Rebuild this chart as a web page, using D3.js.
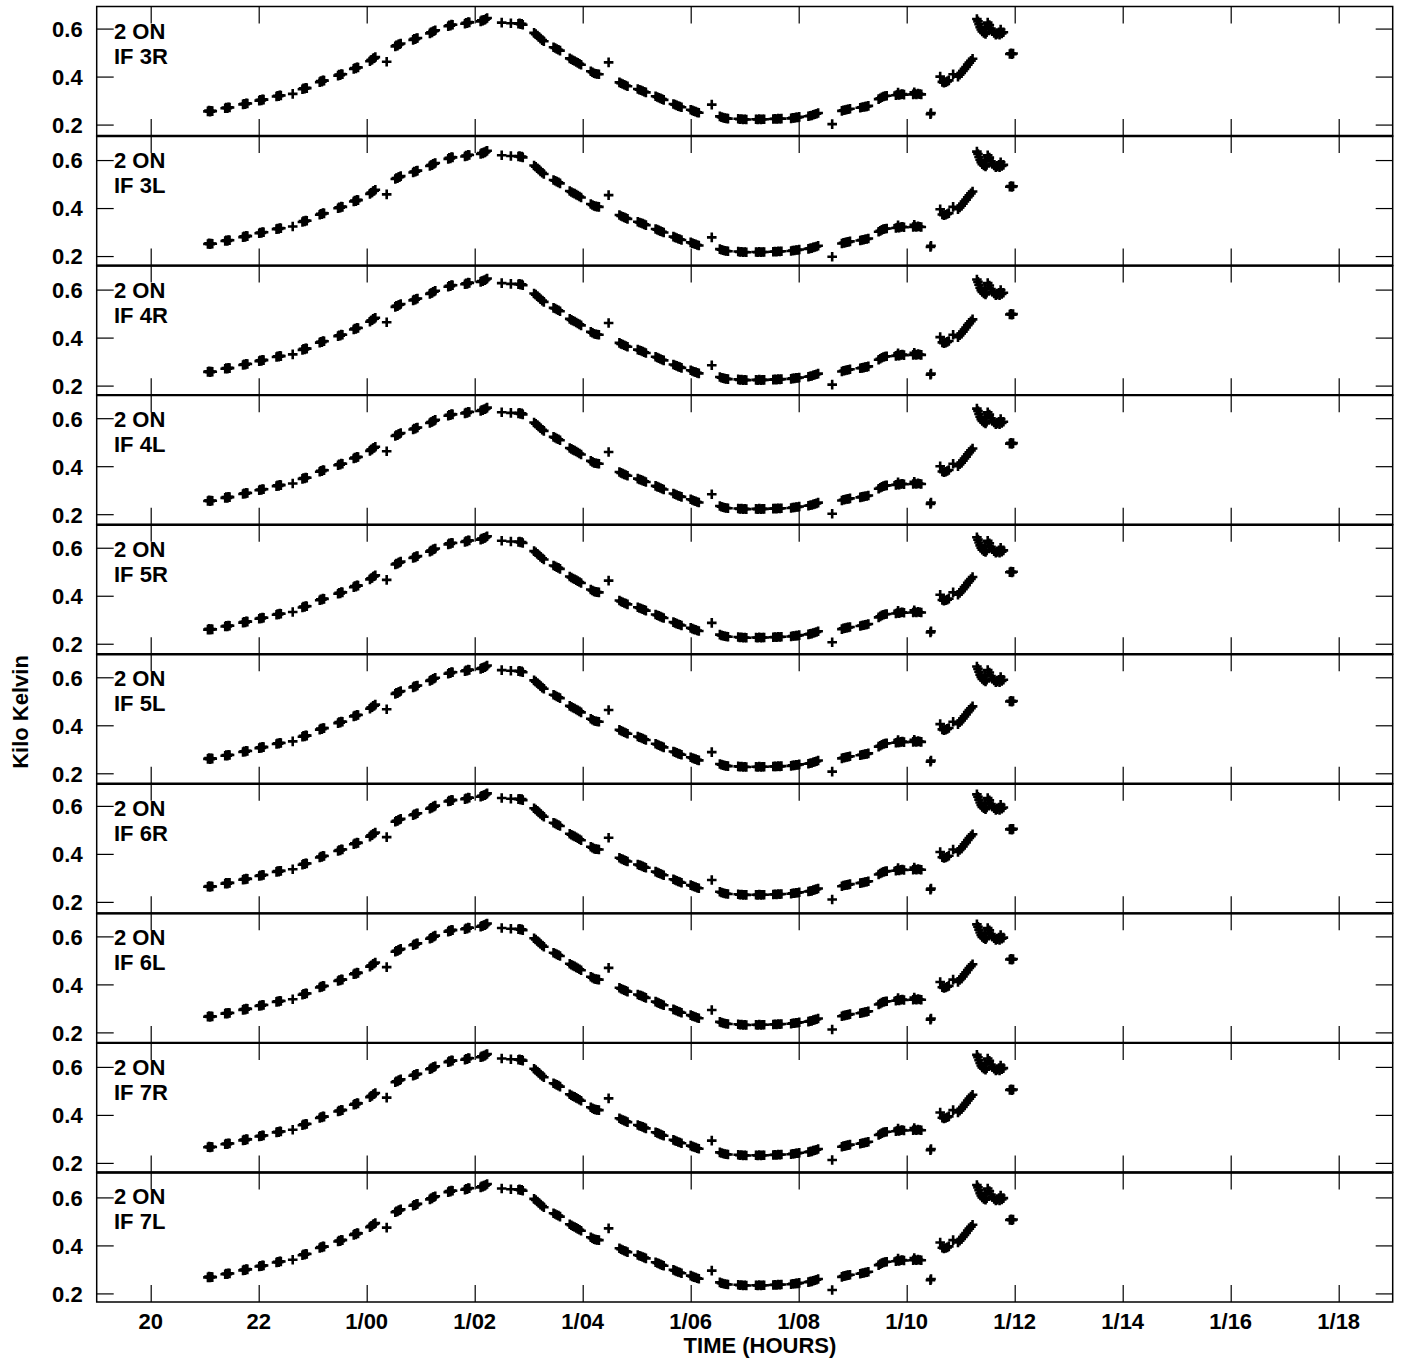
<!DOCTYPE html>
<html><head><meta charset="utf-8">
<script src="https://cdn.jsdelivr.net/npm/d3@7"></script>
<style>
html,body{margin:0;padding:0;background:#fff;}
svg text{font-family:"Liberation Sans",Arial,Helvetica,sans-serif;font-weight:bold;fill:#000;}
</style></head>
<body>
<svg id="c" width="1403" height="1359"></svg>
<script>
// ---- data ----
const panelLabels = ["IF 3R","IF 3L","IF 4R","IF 4L","IF 5R","IF 5L","IF 6R","IF 6L","IF 7R","IF 7L"];
const sourceLabel = "2 ON";
// per-panel level shift relative to the IF 3R trace (kilo Kelvin)
const panelOffsets = [0, -0.005, 0.002, 0.0, 0.004, 0.005, 0.008, 0.01, 0.01, 0.012];
// per-panel top of the y axis (kilo Kelvin)
const panelTopValues = [0.692, 0.700, 0.700, 0.696, 0.696, 0.696, 0.692, 0.696, 0.700, 0.704];
const yTickValues = [0.2, 0.4, 0.6];
const xTickValues = [20, 22, 24, 26, 28, 30, 32, 34, 36, 38, 40, 42];
const xTickLabels = ["20","22","1/00","1/02","1/04","1/06","1/08","1/10","1/12","1/14","1/16","1/18"];
const xDomain = [19, 43];
const xTitle = "TIME (HOURS)";
const yTitle = "Kilo Kelvin";
// [time (hours from day 0, 0h), Tsys (kilo Kelvin)] for IF 3R
const tsysPoints = [
 [21.06,0.255],[21.08,0.258],[21.10,0.254],[21.12,0.257],[21.14,0.256],
 [21.38,0.268],[21.40,0.271],[21.42,0.268],[21.44,0.272],[21.46,0.271],
 [21.71,0.284],[21.73,0.287],[21.75,0.285],[21.77,0.289],[21.79,0.288],
 [22.01,0.300],[22.03,0.303],[22.05,0.301],[22.07,0.305],[22.09,0.304],
 [22.33,0.317],[22.35,0.320],[22.37,0.318],[22.39,0.322],[22.41,0.321],
 [22.63,0.328],
 [22.81,0.347],[22.83,0.351],[22.85,0.349],[22.87,0.353],[22.89,0.352],
 [23.13,0.377],[23.15,0.381],[23.17,0.379],[23.19,0.384],[23.21,0.383],
 [23.47,0.404],[23.49,0.408],[23.51,0.406],[23.53,0.411],[23.55,0.410],
 [23.76,0.432],[23.78,0.436],[23.80,0.434],[23.82,0.439],[23.84,0.438],
 [24.06,0.464],[24.08,0.469],[24.10,0.470],[24.12,0.476],[24.14,0.477],[24.16,0.481],
 [24.37,0.462],
 [24.53,0.526],[24.55,0.530],[24.57,0.529],[24.59,0.534],[24.61,0.535],[24.63,0.538],
 [24.86,0.553],[24.88,0.557],[24.90,0.556],[24.92,0.560],[24.94,0.561],
 [25.17,0.580],[25.19,0.584],[25.21,0.584],[25.23,0.589],[25.25,0.590],[25.27,0.593],
 [25.51,0.610],[25.53,0.614],[25.55,0.612],[25.57,0.617],[25.59,0.616],
 [25.82,0.620],[25.84,0.624],[25.86,0.622],[25.88,0.627],[25.90,0.626],
 [26.11,0.630],[26.13,0.634],[26.15,0.633],[26.17,0.637],[26.19,0.637],[26.21,0.641],[26.23,0.644],
 [26.50,0.625],[26.67,0.622],
 [26.81,0.620],[26.83,0.622],[26.85,0.618],[26.87,0.620],[26.89,0.616],
 [27.10,0.582],[27.13,0.577],[27.16,0.571],[27.19,0.565],[27.22,0.558],[27.25,0.552],[27.28,0.547],
 [27.46,0.522],[27.49,0.519],[27.52,0.515],[27.55,0.512],[27.58,0.508],
 [27.76,0.476],[27.79,0.472],[27.82,0.468],[27.85,0.465],[27.88,0.461],[27.91,0.457],[27.94,0.453],[27.97,0.449],
 [28.15,0.422],[28.18,0.418],[28.21,0.414],[28.24,0.412],[28.27,0.411],[28.30,0.410],
 [28.48,0.459],
 [28.68,0.376],[28.71,0.372],[28.74,0.369],[28.77,0.366],[28.80,0.363],[28.83,0.360],
 [29.02,0.348],[29.05,0.345],[29.08,0.343],[29.11,0.340],[29.14,0.337],[29.17,0.334],
 [29.35,0.318],[29.38,0.315],[29.41,0.312],[29.44,0.309],[29.47,0.306],[29.50,0.303],
 [29.68,0.286],[29.71,0.283],[29.74,0.280],[29.77,0.277],[29.80,0.275],[29.83,0.272],
 [30.00,0.262],[30.03,0.259],[30.06,0.256],[30.09,0.254],[30.12,0.251],[30.15,0.249],
 [30.39,0.283],
 [30.54,0.234],[30.57,0.231],[30.60,0.229],[30.63,0.227],[30.66,0.226],[30.69,0.225],
 [30.88,0.224],[30.91,0.222],[30.94,0.223],[30.97,0.221],[31.00,0.222],[31.03,0.221],
 [31.21,0.222],[31.24,0.221],[31.27,0.223],[31.30,0.221],[31.33,0.222],[31.36,0.222],
 [31.53,0.223],[31.56,0.224],[31.59,0.223],[31.62,0.225],[31.65,0.224],[31.68,0.225],
 [31.86,0.226],[31.89,0.228],[31.92,0.228],[31.95,0.230],[31.98,0.230],[32.01,0.232],
 [32.18,0.235],[32.21,0.237],[32.24,0.238],[32.27,0.241],[32.30,0.243],[32.33,0.245],[32.36,0.248],
 [32.62,0.202],
 [32.80,0.257],[32.83,0.260],[32.86,0.261],[32.89,0.263],[32.92,0.264],[32.95,0.266],
 [33.14,0.270],[33.17,0.272],[33.20,0.273],[33.23,0.275],[33.26,0.276],[33.29,0.278],
 [33.48,0.306],[33.51,0.310],[33.54,0.314],[33.57,0.317],[33.60,0.319],[33.63,0.320],
 [33.80,0.322],[33.83,0.324],[33.84,0.333],[33.86,0.323],[33.89,0.326],[33.92,0.327],[33.95,0.325],
 [34.12,0.326],[34.14,0.335],[34.15,0.328],[34.18,0.326],[34.21,0.329],[34.24,0.327],[34.27,0.326],
 [34.44,0.243],[34.45,0.248],
 [34.62,0.400],
 [34.66,0.378],[34.69,0.375],[34.72,0.377],[34.75,0.380],[34.78,0.384],
 [34.86,0.410],
 [34.95,0.400],[34.98,0.408],[35.01,0.415],[35.04,0.423],[35.07,0.432],[35.10,0.440],[35.13,0.450],[35.16,0.458],[35.19,0.466],[35.22,0.474],
 [35.30,0.640],[35.32,0.630],[35.34,0.618],[35.36,0.606],[35.38,0.596],[35.40,0.588],[35.43,0.582],[35.46,0.578],[35.48,0.585],[35.45,0.605],
 [35.50,0.625],[35.53,0.615],[35.56,0.600],[35.59,0.590],[35.62,0.582],[35.65,0.575],[35.68,0.578],[35.71,0.585],[35.74,0.596],[35.72,0.575],[35.76,0.580],[35.79,0.585],
 [35.91,0.494],[35.93,0.497],[35.95,0.493],[35.97,0.496]
];

// ---- layout ----
(function(){
const W = 1403, H = 1359;
const pLeft = 96.7, pRight = 1392.7, pTop = 6.5, pBottom = 1302;
const nP = panelLabels.length;
const pH = (pBottom - pTop) / nP;
const pxPerUnit = 240;
const tickLen = 17;
const svg = d3.select("#c");
svg.append("rect").attr("width", W).attr("height", H).attr("fill", "#fff");

const x = d3.scaleLinear().domain(xDomain).range([pLeft, pRight]);
const cross = "M-4.8,0H4.8M0,-4.8V4.8";

svg.append("defs").selectAll("clipPath").data(panelLabels).join("clipPath")
  .attr("id", (d, i) => "clip" + i)
  .append("rect").attr("x", pLeft).attr("width", pRight - pLeft)
  .attr("y", (d, i) => pTop + i * pH).attr("height", pH);

panelLabels.forEach((lab, i) => {
  const y0 = pTop + i * pH, y1 = y0 + pH;
  const yTop = panelTopValues[i];
  const y = d3.scaleLinear().domain([yTop - pH / pxPerUnit, yTop]).range([y1, y0]);
  const g = svg.append("g");

  const axTop = d3.axisBottom(x).tickValues(xTickValues).tickSize(tickLen).tickFormat("");
  const axBot = d3.axisTop(x).tickValues(xTickValues).tickSize(tickLen).tickFormat("");
  g.append("g").attr("transform", `translate(0,${y0})`).call(axTop);
  g.append("g").attr("transform", `translate(0,${y1})`).call(axBot);
  const axL = d3.axisRight(y).tickValues(yTickValues).tickSize(tickLen).tickFormat(d3.format(".1f"));
  const axR = d3.axisLeft(y).tickValues(yTickValues).tickSize(tickLen).tickFormat("");
  const gl = g.append("g").attr("transform", `translate(${pLeft},0)`).call(axL);
  g.append("g").attr("transform", `translate(${pRight},0)`).call(axR);
  g.selectAll(".domain").remove();
  g.selectAll(".tick line").attr("stroke", "#000").attr("stroke-width", 1.2);
  gl.selectAll(".tick text")
    .attr("x", -14).attr("dy", "0.36em").attr("text-anchor", "end")
    .style("font-size", "22px").style("font-family", "'Liberation Sans',Arial,sans-serif")
    .style("font-weight", "bold").attr("fill", "#000");

  g.append("rect").attr("x", pLeft).attr("y", y0).attr("width", pRight - pLeft).attr("height", pH)
    .attr("fill", "none").attr("stroke", "#000").attr("stroke-width", 1.5);
  if (i > 0) {
    g.append("line").attr("x1", pLeft).attr("x2", pRight).attr("y1", y0).attr("y2", y0)
      .attr("stroke", "#000").attr("stroke-width", 2.4);
  }

  const off = panelOffsets[i];
  g.append("g").attr("clip-path", `url(#clip${i})`)
    .selectAll("path").data(tsysPoints).join("path")
    .attr("d", cross)
    .attr("transform", d => `translate(${x(d[0])},${y(d[1] + off)})`)
    .attr("stroke", "#000").attr("stroke-width", 2.6).attr("fill", "none");

  g.append("text").attr("x", 114).attr("y", y0 + 32).style("font-size", "22px").text(sourceLabel);
  g.append("text").attr("x", 114).attr("y", y0 + 57).style("font-size", "22px").text(lab);
});

svg.append("g").selectAll("text").data(xTickValues).join("text")
  .attr("x", d => x(d)).attr("y", 1329).attr("text-anchor", "middle")
  .style("font-size", "22px").text((d, i) => xTickLabels[i]);
svg.append("text").attr("x", 760).attr("y", 1353).attr("text-anchor", "middle")
  .style("font-size", "22px").text(xTitle);
svg.append("text").attr("transform", "translate(28,712) rotate(-90)").attr("text-anchor", "middle")
  .style("font-size", "22px").text(yTitle);
})();
</script>
</body></html>
